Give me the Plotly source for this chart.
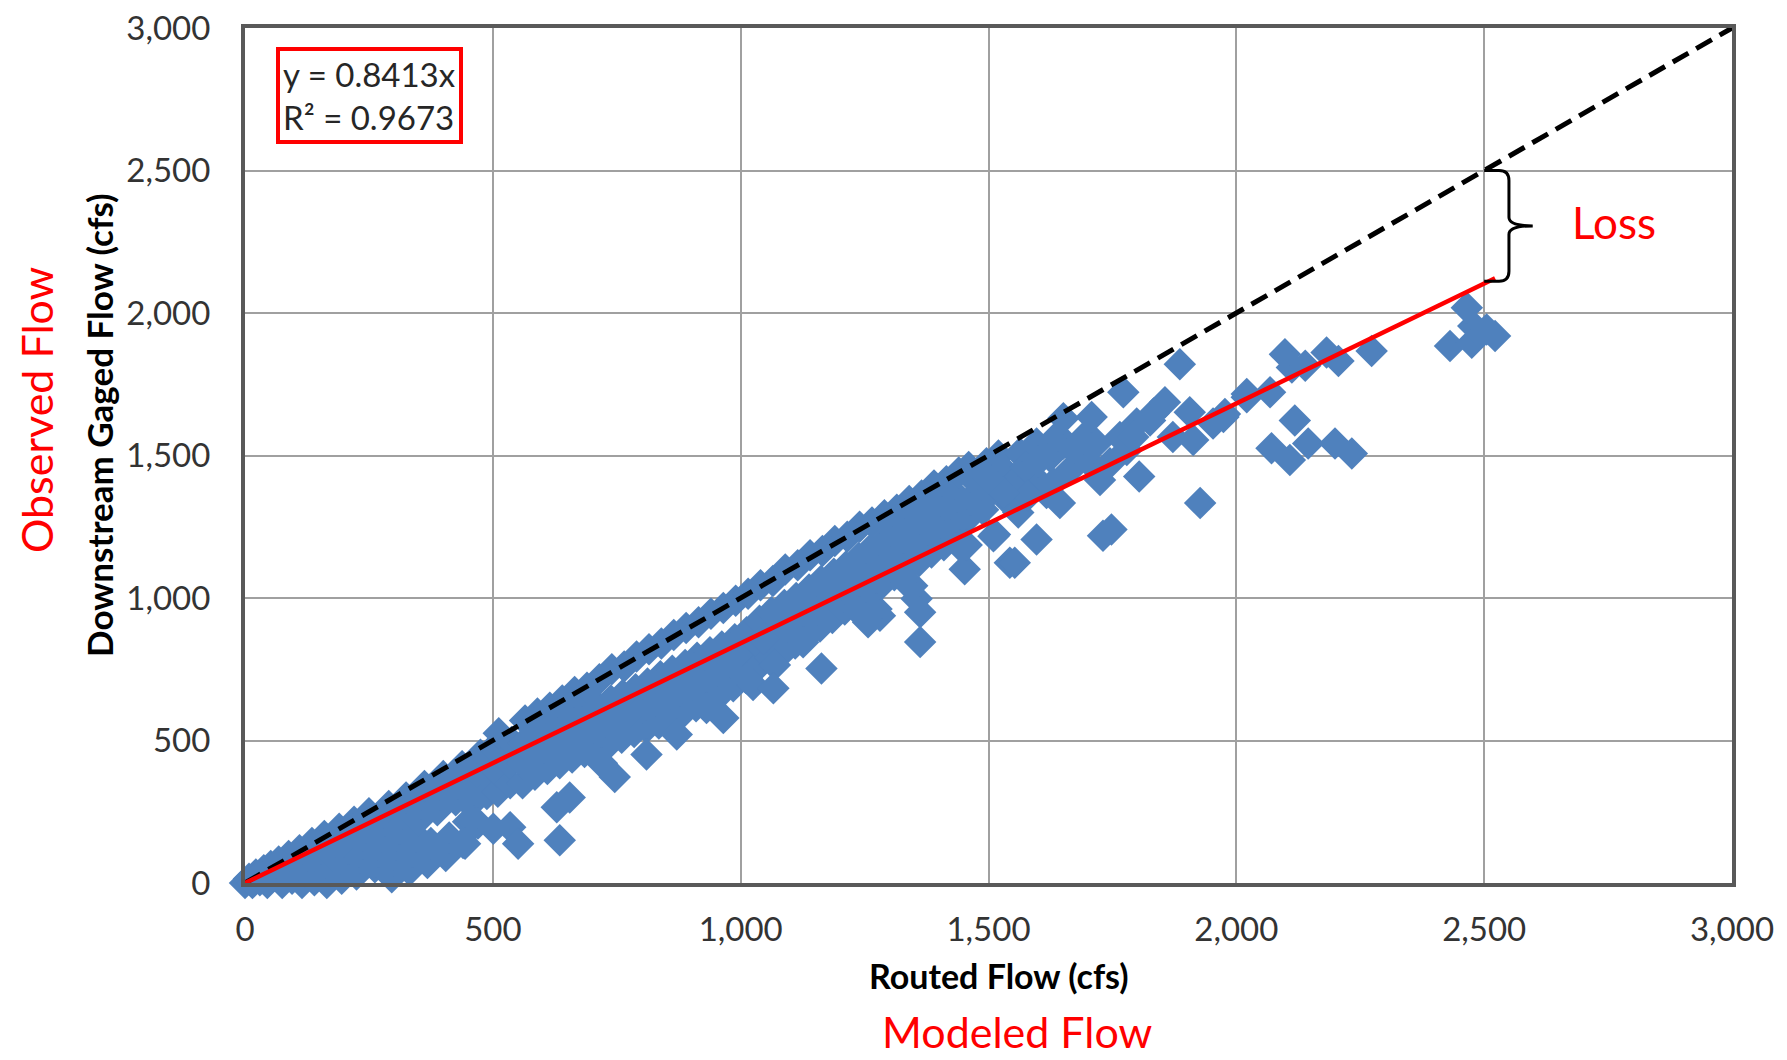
import plotly.graph_objects as go

# ---------------- data ----------------
routed_flow = [
    0, 8, 15, 22, 30, 38, 45, 52, 60, 68,
    75, 80, 88, 95, 102, 110, 115, 122, 128, 135,
    140, 148, 155, 160, 165, 172, 178, 185, 190, 195,
    200, 208, 214, 220, 225, 232, 238, 245, 250,
    262, 270, 276, 282, 290, 296, 300, 305, 312, 318,
    325, 332, 338, 345, 350, 355, 362, 368, 375, 388,
    395, 400, 405, 412, 425, 430, 438, 440, 450, 455,
    462, 468, 475, 470, 488, 495, 500, 505,
    510, 510, 510, 512, 535, 535, 538, 560, 560, 562, 565,
    585, 585, 588, 590, 610, 610, 612, 615, 635, 635, 638, 640,
    660, 660, 662, 665, 685, 685, 688, 690, 710, 710, 712, 715,
    735, 735, 738, 740, 760, 760, 762, 765, 785, 785, 788, 790,
    810, 810, 812, 815, 835, 835, 838, 840, 860, 860, 862, 865,
    885, 885, 888, 890, 910, 910, 912, 915, 935, 935, 938, 940,
    960, 960, 962, 965, 985, 985, 988, 990, 1010, 1010, 1012, 1015,
    1035, 1035, 1038, 1040, 1060, 1060, 1062, 1065, 1085, 1085, 1088, 1090,
    1110, 1110, 1112, 1115, 1135, 1135, 1138, 1140, 1160, 1160, 1162, 1165,
    1185, 1185, 1188, 1190, 1210, 1210, 1212, 1215, 1235, 1235, 1238, 1240,
    1260, 1260, 1262, 1265, 1285, 1285, 1288, 1290, 1310, 1310, 1312, 1315,
    1335, 1335, 1338, 1340, 1360, 1360, 1362, 1365, 1385, 1385, 1388, 1390,
    1410, 1410, 1412, 1415, 1435, 1435, 1438, 1440,
    1456, 1463, 1463, 1460, 1489, 1496, 1485, 1510, 1530, 1520,
    1550, 1563, 1545, 1590, 1597, 1575, 1617, 1624, 1631, 1600,
    1651, 1665, 1640, 1685, 1705, 1718, 1690, 1745, 1765, 1779,
    1799, 1833, 1560, 1580, 1530, 1500,
    635, 629, 655, 535, 551, 464, 444, 501, 746, 720,
    810, 871, 965, 931, 1025, 1012, 1069, 1066, 1163, 1123,
    1093, 1046, 1126, 1240, 1257, 1274, 1281, 1253, 1328, 1346,
    1335, 1355, 1362, 1362, 1442, 1452, 1456, 1510, 1513, 1543,
    1553, 1597, 1644, 1731, 1748, 1725, 1804, 1792, 1651, 1708,
    1772, 1856, 1886, 1872, 1913, 1953, 1826, 1906, 1927, 1974,
    2021, 1977, 2021, 2068, 2098, 2112, 2139, 2182, 2206, 2273,
    2118, 2071, 2108, 2145, 2199, 2233, 2431, 2475, 2478, 2465, 2505, 2522,
]
gaged_flow = [
    0, 15, 0, 30, 10, 45, 0, 60, 25, 75,
    0, 45, 95, 15, 70, 115, 0, 40, 95, 140,
    10, 65, 120, 165, 0, 40, 95, 145, 190, 15,
    65, 120, 170, 215, 30, 90, 140, 195, 245,
    55, 110, 165, 220, 270, 20, 80, 135, 190, 245,
    300, 45, 110, 165, 220, 280, 340, 70, 140, 255,
    310, 375, 95, 160, 290, 350, 410, 140, 215, 275,
    330, 390, 450, 209, 312, 370, 420, 480,
    320, 390, 460, 525, 350, 420, 495, 350, 420, 490, 570,
    380, 450, 520, 595, 400, 470, 540, 615, 420, 490, 560, 640,
    440, 510, 580, 670, 460, 530, 600, 685, 470, 545, 620, 715,
    490, 565, 640, 750, 510, 585, 660, 760, 530, 605, 680, 795,
    545, 625, 700, 820, 560, 645, 725, 840, 585, 665, 745, 870,
    600, 685, 765, 895, 620, 705, 790, 915, 640, 725, 810, 945,
    665, 745, 830, 965, 690, 770, 855, 990, 720, 795, 880, 1015,
    760, 840, 920, 1045, 790, 870, 950, 1060, 810, 895, 975, 1100,
    840, 920, 1000, 1115, 870, 950, 1030, 1150, 900, 980, 1060, 1165,
    930, 1005, 1085, 1200, 960, 1035, 1110, 1215, 990, 1065, 1140, 1250,
    1020, 1095, 1170, 1265, 1050, 1120, 1195, 1290, 1080, 1150, 1225, 1310,
    1105, 1180, 1250, 1340, 1130, 1205, 1280, 1360, 1160, 1235, 1305, 1395,
    1185, 1260, 1330, 1410, 1210, 1285, 1355, 1440,
    1276, 1345, 1427, 1460, 1310, 1473, 1400, 1380, 1450, 1500,
    1403, 1508, 1330, 1427, 1542, 1460, 1368, 1496, 1403, 1480,
    1542, 1450, 1570, 1496, 1473, 1542, 1560, 1473, 1565, 1519,
    1612, 1647, 1300, 1360, 1370, 1420,
    150, 266, 300, 196, 138, 208, 138, 190, 372, 420,
    451, 521, 579, 614, 695, 718, 765, 683, 753, 904,
    834, 857, 845, 950, 915, 961, 938, 927, 1101, 1043,
    1054, 997, 950, 846, 1183, 1101, 1186, 1217, 1223, 1124,
    1124, 1205, 1333, 1218, 1240, 1414, 1426, 1565, 1631, 1635,
    1722, 1687, 1820, 1565, 1554, 1612, 1623, 1652, 1333, 1635,
    1716, 1646, 1704, 1722, 1855, 1809, 1815, 1861, 1832, 1867,
    1623, 1525, 1484, 1542, 1542, 1507, 1884, 1896, 1954, 2018, 1942, 1919,
]

trend_slope = 0.8413
trend_r2 = 0.9673
one_to_one = [0, 3000]
axis_ticks = [0, 500, 1000, 1500, 2000, 2500, 3000]
loss_at_flow = 2500

# ---------------- figure ----------------
FONT = "Lato"
OFF = 8                      # the page body adds an 8 px margin
FIG_W, FIG_H = 1787 - OFF, 1060 - OFF

fig = go.Figure()

fig.add_trace(go.Scatter(
    x=routed_flow, y=gaged_flow, mode="markers",
    marker=dict(symbol="diamond", size=25, color="#4F81BD", line=dict(width=0)),
    cliponaxis=False, showlegend=False, hoverinfo="x+y"))

fig.add_trace(go.Scatter(
    x=one_to_one, y=one_to_one, mode="lines",
    line=dict(color="black", width=5, dash="18px,9px"),
    showlegend=False))

x_end = max(routed_flow)
fig.add_trace(go.Scatter(
    x=[0, x_end], y=[0, trend_slope * x_end], mode="lines",
    line=dict(color="#FF0000", width=4.5), showlegend=False))

# curly brace showing the loss at 2,500 cfs
bx = loss_at_flow
top = loss_at_flow
bot = trend_slope * loss_at_flow + 8
mid = (top + bot) / 2
sx = bx + 50
tx = bx + 98
brace = (f"M {bx},{top} L {sx-20},{top} Q {sx},{top} {sx},{top-35} "
         f"L {sx},{mid+30} Q {sx},{mid} {tx},{mid} "
         f"Q {sx},{mid} {sx},{mid-30} L {sx},{bot+35} "
         f"Q {sx},{bot} {sx-20},{bot} L {bx},{bot}")
fig.add_shape(type="path", path=brace, xref="x", yref="y",
              line=dict(color="black", width=3))

axis_common = dict(
    range=[0, 3000], tickvals=axis_ticks, tickformat=",",
    showgrid=True, gridcolor="#A0A0A0", gridwidth=2,
    showline=True, linecolor="#595959", linewidth=4, mirror=True,
    zeroline=False, ticks="",
    tickfont=dict(family=FONT, size=33, color="#333333"),
    ticklabeloverflow="allow",
    fixedrange=True,
)
fig.update_xaxes(**axis_common, ticklabelstandoff=14)
fig.update_yaxes(**axis_common, ticklabelstandoff=24)

# plot area in page pixels: left 245, right 1732, top 28, bottom 883
L = 245 - OFF
T = 28 - OFF
R = FIG_W - (1732 - OFF)
B = FIG_H - (883 - OFF)
PW, PH = FIG_W - L - R, FIG_H - T - B


def px(x):
    return (x - OFF - L) / PW


def py(y):
    return (FIG_H - B - (y - OFF)) / PH


ann = [
    dict(text="<b>Routed Flow (cfs)</b>", x=px(999), y=py(975),
         font=dict(family=FONT, size=34, color="black")),
    dict(text="<b>Downstream Gaged Flow (cfs)</b>", x=px(99), y=py(425),
         textangle=-90, font=dict(family=FONT, size=35, color="black")),
    dict(text="Modeled Flow", x=px(1017), y=py(1031),
         font=dict(family=FONT, size=43, color="#FF0000")),
    dict(text="Observed Flow", x=px(36), y=py(410), textangle=-90,
         font=dict(family=FONT, size=43, color="#FF0000")),
    dict(text="Loss", x=px(1614), y=py(222),
         font=dict(family=FONT, size=44, color="#FF0000")),
]
for a in ann:
    fig.add_annotation(xref="paper", yref="paper", showarrow=False,
                       xanchor="center", yanchor="middle", borderpad=0, **a)

fig.add_annotation(
    xref="paper", yref="paper", x=px(276), y=py(47),
    xanchor="left", yanchor="top", showarrow=False, align="left",
    text=f"y = {trend_slope:.4f}x<br>R² = {trend_r2:.4f}",
    font=dict(family=FONT, size=33, color="#262626"),
    bordercolor="#FF0000", borderwidth=4, borderpad=3, bgcolor="white")

fig.update_layout(
    width=FIG_W, height=FIG_H,
    margin=dict(l=L, r=R, t=T, b=B, autoexpand=False),
    paper_bgcolor="white", plot_bgcolor="white",
    showlegend=False,
)

fig.write_html("out.html")
